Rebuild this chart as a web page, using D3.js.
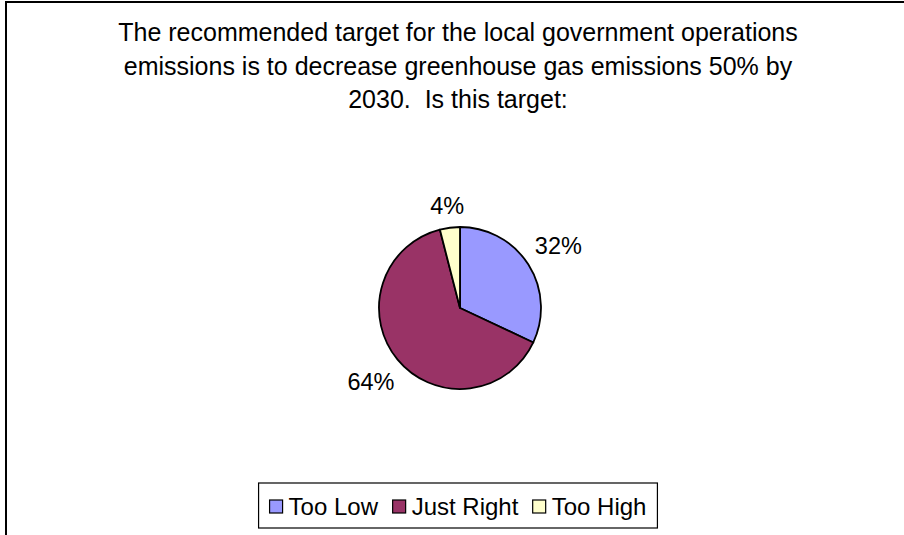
<!DOCTYPE html>
<html>
<head>
<meta charset="utf-8">
<script src="https://cdn.jsdelivr.net/npm/d3@7"></script>
<style>
  body { margin: 0; background: #fff; }
  svg { display: block; font-family: Arial, "Liberation Sans", sans-serif; }
</style>
</head>
<body>
<div id="chart"></div>
<script>
// Survey answers (share of responses)
var categories = ["Too Low", "Just Right", "Too High"];
var values = [32, 64, 4];
var colors = ["#9999ff", "#993366", "#ffffcc"];
var titleLines = [
  "The recommended target for the local government operations",
  "emissions is to decrease greenhouse gas emissions 50% by",
  "2030.  Is this target:"
];

var width = 904, height = 535;
var cx = 460, cy = 308, radius = 81;

var svg = d3.select("#chart")
  .append("svg")
  .attr("width", width)
  .attr("height", height);

// Chart frame (right and bottom edges fall outside the picture)
svg.append("rect")
  .attr("x", 6).attr("y", 2)
  .attr("width", 940).attr("height", 580)
  .attr("fill", "#fff")
  .attr("stroke", "#000")
  .attr("stroke-width", 2);

// Title
svg.append("g")
  .selectAll("text")
  .data(titleLines)
  .enter()
  .append("text")
  .attr("x", 458)
  .attr("y", function(d, i) { return 41 + i * 33.5; })
  .attr("text-anchor", "middle")
  .style("font-size", "25px")
  .style("white-space", "pre")
  .text(function(d) { return d; });

// Pie
var data = categories.map(function(c, i) { return { key: c, value: values[i], color: colors[i] }; });
var pie = d3.pie().sort(null).value(function(d) { return d.value; });
var arcs = pie(data);
var arc = d3.arc().innerRadius(0).outerRadius(radius);

var g = svg.append("g").attr("transform", "translate(" + cx + "," + cy + ")");

g.selectAll("path")
  .data(arcs)
  .enter()
  .append("path")
  .attr("d", arc)
  .attr("fill", function(d) { return d.data.color; })
  .attr("stroke", "#000")
  .attr("stroke-width", 1.8)
  .attr("stroke-linejoin", "round");

// Labels sit outside the pie, box edge a fixed gap from the rim
var labels = g.selectAll("text")
  .data(arcs)
  .enter()
  .append("text")
  .attr("text-anchor", "middle")
  .attr("dy", "0.35em")
  .style("font-size", "23.5px")
  .text(function(d) { return d.data.value + "%"; });

labels.attr("transform", function(d) {
  var b = this.getBBox();
  var a = (d.startAngle + d.endAngle) / 2;
  var sx = Math.sin(a), sy = -Math.cos(a);
  var r = radius + 11 + Math.abs(sx) * b.width / 2 + Math.abs(sy) * 8.5;
  return "translate(" + (sx * r) + "," + (sy * r) + ")";
});

// Legend
var ly = 483, lh = 45, fs = 24, sw = 13;
var legend = svg.append("g");
var items = legend.selectAll("g")
  .data(data)
  .enter()
  .append("g");

items.append("rect")
  .attr("x", 0).attr("y", -sw / 2)
  .attr("width", sw).attr("height", sw)
  .attr("fill", function(d) { return d.color; })
  .attr("stroke", "#000")
  .attr("stroke-width", 1.2);

items.append("text")
  .attr("x", sw + 6)
  .attr("dy", "0.35em")
  .style("font-size", fs + "px")
  .text(function(d) { return d.key; });

var x = 0;
items.each(function() {
  d3.select(this).attr("transform", "translate(" + x + ",0)");
  x += this.getBBox().width + 14;
});
var totalW = x - 14;
var lx = 458 - (totalW + 22) / 2;
legend.attr("transform", "translate(" + (lx + 11) + "," + (ly + lh / 2 + 1) + ")");

svg.insert("rect", "g:last-of-type")
  .attr("x", lx).attr("y", ly)
  .attr("width", totalW + 22).attr("height", lh)
  .attr("fill", "#fff")
  .attr("stroke", "#000")
  .attr("stroke-width", 1.2);
</script>
</body>
</html>
